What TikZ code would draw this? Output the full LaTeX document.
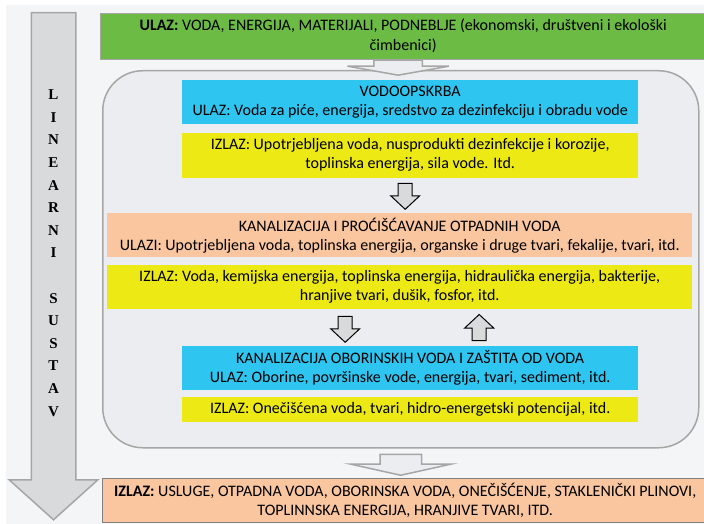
\documentclass[tikz,border=0pt]{standalone}
\usepackage{fontspec}
\setmainfont{Carlito}
\newfontfamily\timesfont{Liberation Serif}
\usepackage{tikz}
\usetikzlibrary{positioning}
\usetikzlibrary{calc}
\usetikzlibrary{shapes.arrows}

\definecolor{pozadina}{HTML}{F4F5F7}
\definecolor{okvir}{HTML}{ECEDF0}
\definecolor{sivarub}{HTML}{A6A6A6}
\definecolor{zelena}{HTML}{6CBB45}
\definecolor{plava}{HTML}{2EC5F1}
\definecolor{zuta}{HTML}{EDE915}
\definecolor{breskva}{HTML}{F9C6A0}
\definecolor{strelica}{HTML}{D9DADC}

\tikzset{
    box/.style={inner sep=0pt, align=center, text=black, font=\fontsize{16}{19}\selectfont},
    velikastrelica/.style={single arrow, draw=sivarub, fill=strelica, line width=1.5pt, inner xsep=0pt, inner ysep=21.5pt,
        minimum height=507pt, minimum width=87pt, single arrow head extend=22pt, single arrow tip angle=96},
    sivastrelica/.style={single arrow, draw=sivarub, fill=okvir, line width=1.5pt, inner xsep=0pt,
        minimum width=100pt},
    malastrelica/.style={single arrow, draw=black, fill=strelica, line width=1pt, inner xsep=0pt, inner ysep=6.5pt,
        minimum height=26pt, minimum width=28pt, single arrow head extend=7.5pt, single arrow tip angle=94},
}

\begin{document}
\begin{tikzpicture}[x=1pt, y=-1pt]
    \useasboundingbox (0,0) rectangle (704,524);
    \fill[pozadina] (6,5) rectangle (704,524);

    \node[velikastrelica, rotate=-90, anchor=tail] (linearni) at (53.5,12) {};
    \node[font=\timesfont\bfseries\fontsize{15}{22.6}\selectfont, align=center, inner sep=0pt] (slova) at (53.5,253)
        {L\\I\\N\\E\\A\\R\\N\\I\\[22.6pt]S\\U\\S\\T\\A\\V};

    \node[box, fill=zelena, draw=sivarub, minimum width=606pt, minimum height=46pt, anchor=north west,
        font=\fontsize{16}{20}\selectfont] (ulaz) at (100,13)
        {\textbf{ULAZ:} VODA, ENERGIJA, MATERIJALI, PODNEBLJE (ekonomski, društveni i ekološki\\čimbenici)};

    \node[draw=sivarub, fill=okvir, line width=1.5pt, rounded corners=40pt, minimum width=596pt,
        minimum height=377pt, anchor=north west] (sustav) at (102,70) {};

    \node[box, fill=plava, minimum width=456pt, minimum height=44pt, anchor=north west] (vodo) at (182,80)
        {VODOOPSKRBA\\ULAZ: Voda za piće, energija, sredstvo za dezinfekciju i obradu vode};
    \node[box, fill=zuta, minimum width=456pt, minimum height=45pt, below=8pt of vodo] (vodoizlaz)
        {IZLAZ: Upotrjebljena voda, nusprodukti dezinfekcije i korozije,\\toplinska energija, sila vode. Itd.};

    \node[box, fill=breskva, minimum width=585pt, minimum height=44pt, anchor=north west] (kanal) at (107,213)
        {KANALIZACIJA I PROĆIŠĆAVANJE OTPADNIH VODA\\ULAZI: Upotrjebljena voda, toplinska energija, organske i druge tvari, fekalije, tvari, itd.};
    \node[box, fill=zuta, minimum width=585pt, minimum height=44pt, below=7pt of kanal] (kanalizlaz)
        {IZLAZ: Voda, kemijska energija, toplinska energija, hidraulička energija, bakterije,\\hranjive tvari, dušik, fosfor, itd.};

    \node[box, fill=plava, minimum width=456pt, minimum height=44pt, anchor=north west] (oborine) at (182,346)
        {KANALIZACIJA OBORINSKIH VODA I ZAŠTITA OD VODA\\ULAZ: Oborine, površinske vode, energija, tvari, sediment, itd.};
    \node[box, fill=zuta, minimum width=456pt, minimum height=25pt, below=6pt of oborine] (oborineizlaz)
        {IZLAZ: Onečišćena voda, tvari, hidro-energetski potencijal, itd.};

    \node[box, fill=breskva, draw=gray, minimum width=606pt, minimum height=44pt, anchor=north west] (izlaz) at (102,478)
        {\textbf{IZLAZ:} USLUGE, OTPADNA VODA, OBORINSKA VODA, ONEČIŠĆENJE, STAKLENIČKI PLINOVI,\\TOPLINNSKA ENERGIJA, HRANJIVE TVARI, ITD.};

    \node[sivastrelica, rotate=-90, anchor=tail, inner ysep=23.5pt, single arrow head extend=26.5pt,
        minimum height=15pt, single arrow tip angle=160] (ulazstr) at ($(ulaz.south)+(-5,0)$) {};
    \node[sivastrelica, rotate=-90, anchor=tail, inner ysep=20pt, single arrow head extend=30pt,
        minimum height=21pt, single arrow tip angle=155] (izlazstr) at ($(sustav.south)+(0,5)$) {};

    \node[malastrelica, rotate=-90, anchor=tail] (str1) at ($(vodoizlaz.south)+(-5,5)$) {};
    \node[malastrelica, rotate=-90, anchor=tail] (str2) at ($(kanalizlaz.south)+(-54.5,7)$) {};
    \node[malastrelica, rotate=90, anchor=tail] (str3) at ($(oborine.north)+(69,-5)$) {};
\end{tikzpicture}
\end{document}
